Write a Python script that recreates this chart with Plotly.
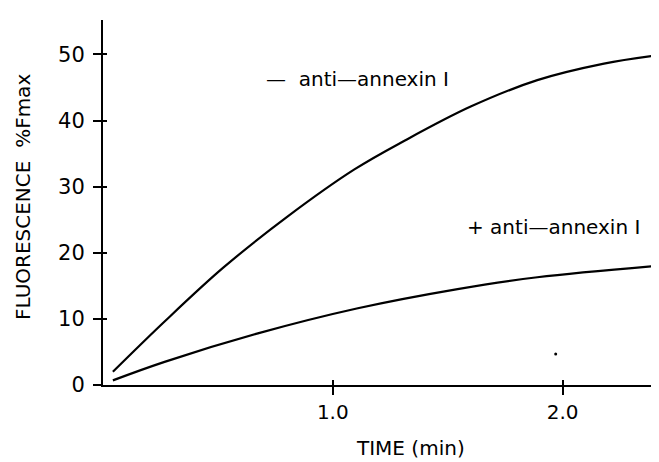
import plotly.graph_objects as go

# Data
time_minus = [0.043, 0.268, 0.522, 0.804, 1.094, 1.31, 1.60, 1.89, 2.18, 2.40]
fluor_minus = [2.0, 9.6, 17.7, 25.5, 32.6, 36.9, 42.1, 46.1, 48.6, 49.8]

time_plus = [0.043, 0.268, 0.674, 1.109, 1.543, 1.89, 2.40]
fluor_plus = [0.7, 3.5, 7.8, 11.6, 14.5, 16.3, 18.0]

speck_x = [1.97]
speck_y = [4.7]

x_tickvals = [1, 2]
x_ticktext = ["1.0", "2.0"]
y_tickvals = [0, 10, 20, 30, 40, 50]

label_minus = "—  anti—annexin I"
label_plus = "+ anti—annexin I"
x_title = "TIME (min)"
y_title = "FLUORESCENCE  %Fmax"

FONT = "DejaVu Sans"

fig = go.Figure()
fig.add_trace(go.Scatter(x=time_minus, y=fluor_minus, mode="lines",
                         line=dict(color="black", width=2.2, shape="spline", smoothing=1.0),
                         showlegend=False, hoverinfo="skip"))
fig.add_trace(go.Scatter(x=time_plus, y=fluor_plus, mode="lines",
                         line=dict(color="black", width=2.2, shape="spline", smoothing=1.0),
                         showlegend=False, hoverinfo="skip"))
fig.add_trace(go.Scatter(x=speck_x, y=speck_y, mode="markers",
                         marker=dict(color="black", size=3),
                         showlegend=False, hoverinfo="skip"))
# dummy trace on overlay axes so they render
fig.add_trace(go.Scatter(x=[None], y=[None], xaxis="x2", yaxis="y2",
                         showlegend=False, hoverinfo="skip"))

XR = [0, 2.45]
YR = [0, 55.2]

fig.update_layout(
    width=659, height=462,
    margin=dict(l=95, r=1, t=12, b=85),
    paper_bgcolor="white", plot_bgcolor="white",
    font=dict(family=FONT, color="black", size=18),
    xaxis=dict(range=XR, showgrid=False, zeroline=False,
               showline=True, linecolor="black", linewidth=2,
               ticks="outside", ticklen=8, tickwidth=2, tickcolor="black",
               tickvals=x_tickvals, ticktext=x_ticktext,
               tickfont=dict(size=20, family=FONT)),
    yaxis=dict(range=YR, showgrid=False, zeroline=False,
               showline=True, linecolor="black", linewidth=2,
               ticks="outside", ticklen=8, tickwidth=2, tickcolor="black",
               tickvals=y_tickvals, ticklabelstandoff=4,
               tickfont=dict(size=21, family=FONT)),
    xaxis2=dict(range=XR, overlaying="x", anchor="y", side="bottom",
                showgrid=False, zeroline=False, showline=False,
                ticks="inside", ticklen=5, tickwidth=2, tickcolor="black",
                tickvals=x_tickvals, showticklabels=False),
    yaxis2=dict(range=YR, overlaying="y", anchor="x", side="left",
                showgrid=False, zeroline=False, showline=False,
                ticks="inside", ticklen=4, tickwidth=2, tickcolor="black",
                tickvals=y_tickvals, showticklabels=False),
    annotations=[
        dict(x=1.107, y=46.3, xref="x", yref="y", text=label_minus, showarrow=False,
             xanchor="center", yanchor="middle", font=dict(size=20, family=FONT)),
        dict(x=1.961, y=23.9, xref="x", yref="y", text=label_plus, showarrow=False,
             xanchor="center", yanchor="middle", font=dict(size=20, family=FONT)),
        dict(x=0.547, y=-0.1726, xref="paper", yref="paper", text=x_title, showarrow=False,
             xanchor="center", yanchor="middle", font=dict(size=20, family=FONT)),
        dict(x=-0.141, y=0.514, xref="paper", yref="paper", text=y_title, showarrow=False,
             xanchor="center", yanchor="middle",
             textangle=-90, font=dict(size=20, family=FONT)),
    ],
)

fig.write_html("out.html")
